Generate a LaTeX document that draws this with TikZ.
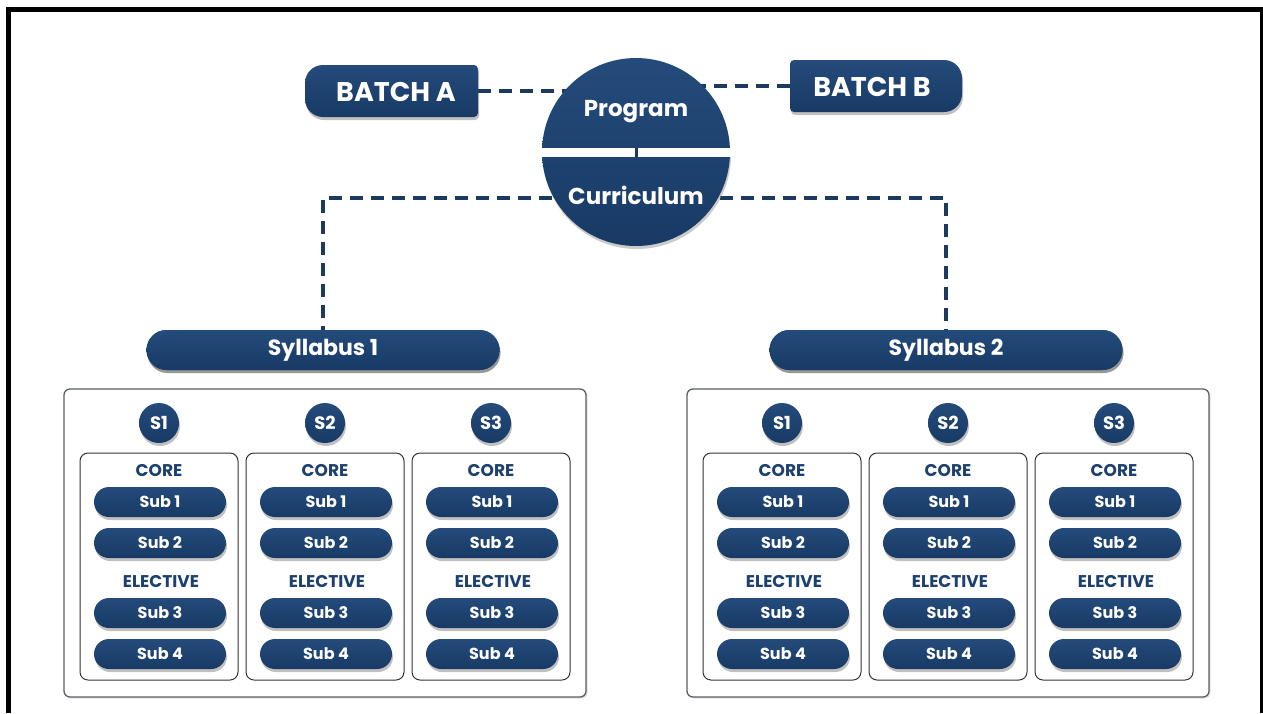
\documentclass[tikz,border=0pt]{standalone}
\usepackage{fontspec}
\setmainfont{Poppins}
\usetikzlibrary{shadows,calc}
\definecolor{navy}{HTML}{1D416F}
\definecolor{navyL}{HTML}{244B7B}
\definecolor{navyD}{HTML}{183A65}
\definecolor{dashc}{HTML}{1C3A60}
\definecolor{boxgray}{HTML}{5A5F66}
\newcommand\myfs[1]{\fontsize{#1}{#1}\selectfont}
\tikzset{
  navyfill/.style={top color=navyL, bottom color=navyD},
  shad/.style={drop shadow={opacity=0.35,shadow xshift=1pt,shadow yshift=-3pt,fill=black!70}},
  conn/.style={draw=dashc, line width=3.4pt, dash pattern=on 13pt off 8pt},
  wtxt/.style={text=white, font=\bfseries\myfs{#1}, inner sep=0pt},
  bar/.style={navyfill, shad, rounded corners=20pt, minimum width=353pt, minimum height=40pt, inner sep=0pt, text=white, font=\bfseries\myfs{22}},
  pill/.style={navyfill, shad, rounded corners=15pt, minimum width=132pt, minimum height=30pt, inner sep=0pt, text=white, font=\bfseries\myfs{16}},
  scirc/.style={circle, navyfill, shad, minimum size=40pt, inner sep=0pt, text=white, font=\bfseries\myfs{18}},
  outerbox/.style={draw=boxgray, line width=1.3pt, fill=white, rounded corners=6pt, minimum width=522pt, minimum height=308pt, drop shadow={opacity=0.25,shadow xshift=1.5pt,shadow yshift=-1.5pt}},
  innerbox/.style={draw=black!80, line width=1pt, fill=white, rounded corners=8pt, minimum width=158pt, minimum height=227pt},
  lbl/.style={text=navy, font=\bfseries\myfs{17}, inner sep=0pt},
}
\begin{document}
\begin{tikzpicture}[x=1pt,y=1pt]
\useasboundingbox (0,0) rectangle (1263,-713);
\fill[white] (0,0) rectangle (1263,-713);
\draw[line width=5pt] (8.5,-713) -- (8.5,-9.5) -- (1262.5,-9.5) -- (1262.5,-713);

% placeholders
\node[circle, minimum size=188pt, inner sep=0pt] (circ) at (636,-152) {};
\coordinate (cl) at (636,-198);
\node[minimum width=173pt, minimum height=52pt, inner sep=0pt] (ba) at (391.5,-91) {};
\node[minimum width=172pt, minimum height=52pt, inner sep=0pt] (bb) at (876,-86) {};
\node[bar] (syl1) at (323,-350) {Syllabus 1};
\node[bar] (syl2) at (946,-350) {Syllabus 2};

% connectors
\draw[conn] (ba.east) -- (ba.east -| circ.center);
\draw[conn] (bb.west) -- (bb.west -| circ.center);
\draw[conn] (cl) -| (syl1.north);
\draw[conn] (cl) -| (syl2.north);

% redraw bars over connector ends
\node[bar] at (syl1) {Syllabus 1};
\node[bar] at (syl2) {Syllabus 2};

% circle halves
\draw[navyD, line width=3pt] (636,-144) -- (636,-160);
\begin{scope}
  \clip (520,-40) rectangle (750,-147);
  \shade[top color=navyL, bottom color=navyD] (circ.center) circle (94);
\end{scope}
\begin{scope}
  \clip (520,-157) rectangle (750,-270);
  \fill[black!40, opacity=0.5] ($(circ.center)+(1,-3)$) circle (94);
  \shade[top color=navyL, bottom color=navyD] (circ.center) circle (94);
\end{scope}
\node[wtxt=23] (prog) at (636,-112) {Program};
\node[wtxt=23] (curr) at (636,-195) {Curriculum};

% batch boxes
\path[navyfill, shad] (323,-65) -- (474,-65) arc[start angle=90,end angle=0,radius=4] -- (478,-113) arc[start angle=0,end angle=-90,radius=4] -- (323,-117) arc[start angle=270,end angle=180,radius=18] -- (305,-83) arc[start angle=180,end angle=90,radius=18] -- cycle;
\path[navyfill, shad] (794,-60) -- (944,-60) arc[start angle=90,end angle=0,radius=18] -- (962,-94) arc[start angle=0,end angle=-90,radius=18] -- (794,-112) arc[start angle=270,end angle=180,radius=4] -- (790,-64) arc[start angle=180,end angle=90,radius=4] -- cycle;
\node[wtxt=27] (batxt) at (396,-92) {BATCH A};
\node[wtxt=27] (bbtxt) at (872,-87) {BATCH B};

% syllabus blocks
\foreach \s/\ox in {1/0,2/623} {
  \node[outerbox] (ob\s) at ({325+\ox},-543) {};
  \foreach \c in {1,2,3} {
    \pgfmathsetmacro{\cx}{159+(\c-1)*166+\ox}
    \node[scirc] (sc\s\c) at (\cx,-423) {S\c};
    \node[innerbox] (ib\s\c) at (\cx,-566.5) {};
    \node[lbl] (core\s\c) at (\cx,-470) {CORE};
    \node[pill] (sa\s\c) at ({\cx+1},-502) {Sub 1};
    \node[pill] (sb\s\c) at ({\cx+1},-543) {Sub 2};
    \node[lbl] (elec\s\c) at ({\cx+2},-581) {ELECTIVE};
    \node[pill] (sd\s\c) at ({\cx+1},-613) {Sub 3};
    \node[pill] (se\s\c) at ({\cx+1},-654) {Sub 4};
  }
}
\end{tikzpicture}
\end{document}
